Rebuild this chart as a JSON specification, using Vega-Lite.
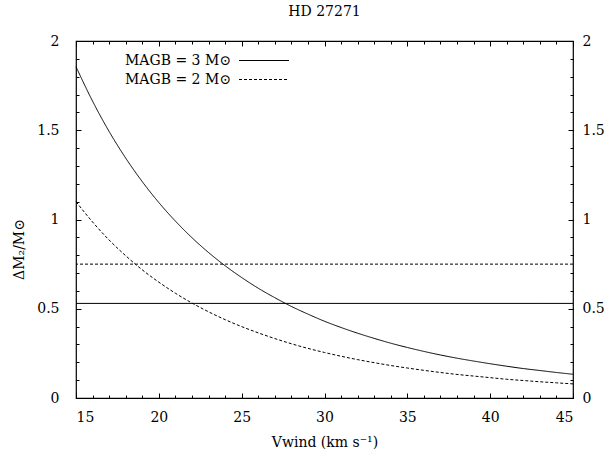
{
  "$schema": "https://vega.github.io/schema/vega-lite/v6.json",
  "width": 497,
  "height": 357,
  "autosize": {"type": "none"},
  "padding": {"left": 76, "top": 41, "right": 37, "bottom": 61},
  "title": {"text": "HD 27271", "font": "DejaVu Serif", "fontSize": 14, "fontWeight": "normal", "color": "black", "offset": 15, "anchor": "middle"},
  "config": {
    "view": {"stroke": "black", "strokeWidth": 1.2},
    "font": "DejaVu Serif",
    "axis": {"labelFont": "DejaVu Serif", "labelFontSize": 14, "labelColor": "black", "titleFont": "DejaVu Serif", "titleFontSize": 14, "titleFontWeight": "normal", "titleColor": "black", "tickColor": "black", "tickWidth": 1, "domain": false, "grid": false},
    "legend": {"labelFont": "DejaVu Serif", "labelFontSize": 14, "labelColor": "black"}
  },
  "datasets": {
    "curves": [
      {"V":15,"dM":1.856,"series":"MAGB = 3 M⊙"},{"V":16,"dM":1.663,"series":"MAGB = 3 M⊙"},{"V":17,"dM":1.493,"series":"MAGB = 3 M⊙"},{"V":18,"dM":1.344,"series":"MAGB = 3 M⊙"},{"V":19,"dM":1.212,"series":"MAGB = 3 M⊙"},{"V":20,"dM":1.095,"series":"MAGB = 3 M⊙"},{"V":21,"dM":0.991,"series":"MAGB = 3 M⊙"},{"V":22,"dM":0.898,"series":"MAGB = 3 M⊙"},{"V":23,"dM":0.815,"series":"MAGB = 3 M⊙"},{"V":24,"dM":0.741,"series":"MAGB = 3 M⊙"},{"V":25,"dM":0.675,"series":"MAGB = 3 M⊙"},{"V":26,"dM":0.615,"series":"MAGB = 3 M⊙"},{"V":27,"dM":0.562,"series":"MAGB = 3 M⊙"},{"V":28,"dM":0.513,"series":"MAGB = 3 M⊙"},{"V":29,"dM":0.470,"series":"MAGB = 3 M⊙"},{"V":30,"dM":0.430,"series":"MAGB = 3 M⊙"},{"V":31,"dM":0.395,"series":"MAGB = 3 M⊙"},{"V":32,"dM":0.363,"series":"MAGB = 3 M⊙"},{"V":33,"dM":0.334,"series":"MAGB = 3 M⊙"},{"V":34,"dM":0.307,"series":"MAGB = 3 M⊙"},{"V":35,"dM":0.283,"series":"MAGB = 3 M⊙"},{"V":36,"dM":0.261,"series":"MAGB = 3 M⊙"},{"V":37,"dM":0.241,"series":"MAGB = 3 M⊙"},{"V":38,"dM":0.223,"series":"MAGB = 3 M⊙"},{"V":39,"dM":0.207,"series":"MAGB = 3 M⊙"},{"V":40,"dM":0.192,"series":"MAGB = 3 M⊙"},{"V":41,"dM":0.178,"series":"MAGB = 3 M⊙"},{"V":42,"dM":0.165,"series":"MAGB = 3 M⊙"},{"V":43,"dM":0.154,"series":"MAGB = 3 M⊙"},{"V":44,"dM":0.143,"series":"MAGB = 3 M⊙"},{"V":45,"dM":0.133,"series":"MAGB = 3 M⊙"},
      {"V":15,"dM":1.100,"series":"MAGB = 2 M⊙"},{"V":16,"dM":0.986,"series":"MAGB = 2 M⊙"},{"V":17,"dM":0.885,"series":"MAGB = 2 M⊙"},{"V":18,"dM":0.797,"series":"MAGB = 2 M⊙"},{"V":19,"dM":0.718,"series":"MAGB = 2 M⊙"},{"V":20,"dM":0.649,"series":"MAGB = 2 M⊙"},{"V":21,"dM":0.587,"series":"MAGB = 2 M⊙"},{"V":22,"dM":0.532,"series":"MAGB = 2 M⊙"},{"V":23,"dM":0.483,"series":"MAGB = 2 M⊙"},{"V":24,"dM":0.439,"series":"MAGB = 2 M⊙"},{"V":25,"dM":0.400,"series":"MAGB = 2 M⊙"},{"V":26,"dM":0.365,"series":"MAGB = 2 M⊙"},{"V":27,"dM":0.333,"series":"MAGB = 2 M⊙"},{"V":28,"dM":0.304,"series":"MAGB = 2 M⊙"},{"V":29,"dM":0.278,"series":"MAGB = 2 M⊙"},{"V":30,"dM":0.255,"series":"MAGB = 2 M⊙"},{"V":31,"dM":0.234,"series":"MAGB = 2 M⊙"},{"V":32,"dM":0.215,"series":"MAGB = 2 M⊙"},{"V":33,"dM":0.198,"series":"MAGB = 2 M⊙"},{"V":34,"dM":0.182,"series":"MAGB = 2 M⊙"},{"V":35,"dM":0.168,"series":"MAGB = 2 M⊙"},{"V":36,"dM":0.155,"series":"MAGB = 2 M⊙"},{"V":37,"dM":0.143,"series":"MAGB = 2 M⊙"},{"V":38,"dM":0.132,"series":"MAGB = 2 M⊙"},{"V":39,"dM":0.123,"series":"MAGB = 2 M⊙"},{"V":40,"dM":0.114,"series":"MAGB = 2 M⊙"},{"V":41,"dM":0.105,"series":"MAGB = 2 M⊙"},{"V":42,"dM":0.098,"series":"MAGB = 2 M⊙"},{"V":43,"dM":0.091,"series":"MAGB = 2 M⊙"},{"V":44,"dM":0.085,"series":"MAGB = 2 M⊙"},{"V":45,"dM":0.079,"series":"MAGB = 2 M⊙"}
    ],
    "levels": [
      {"series": "MAGB = 3 M⊙", "level": 0.53},
      {"series": "MAGB = 2 M⊙", "level": 0.75}
    ]
  },
  "layer": [
    {
      "data": {"name": "curves"},
      "mark": {"type": "line", "color": "black", "strokeWidth": 1, "interpolate": "monotone"},
      "encoding": {
        "x": {"field": "V", "type": "quantitative", "scale": {"domain": [15, 45], "nice": false, "zero": false},
          "axis": {"orient": "bottom", "values": [15, 20, 25, 30, 35, 40, 45], "tickSize": -5, "labelPadding": 17.5, "labelExpr": "'' + datum.value", "title": "Vwind (km s⁻¹)", "titlePadding": 11}},
        "y": {"field": "dM", "type": "quantitative", "scale": {"domain": [0, 2], "nice": false, "zero": false},
          "axis": {"orient": "left", "values": [0, 0.5, 1, 1.5, 2], "tickSize": -5, "labelPadding": 22, "labelExpr": "'' + datum.value", "title": "ΔM₂/M⊙", "titleY": 208, "titlePadding": 10}},
        "strokeDash": {"field": "series", "type": "nominal",
          "scale": {"domain": ["MAGB = 3 M⊙", "MAGB = 2 M⊙"], "range": [[1, 0], [3, 2]]},
          "legend": {"title": null, "orient": "none", "legendX": 181, "legendY": 12.5, "padding": 0, "rowPadding": 5,
            "symbolType": "M-5,0H5", "symbolSize": 100, "symbolStrokeColor": "black", "symbolFillColor": "transparent", "symbolStrokeWidth": 1,
            "labelAlign": "right", "labelOffset": -40}}
      }
    },
    {
      "data": {"name": "levels"},
      "mark": {"type": "rule", "color": "black", "strokeWidth": 1},
      "encoding": {
        "y": {"field": "level", "type": "quantitative", "scale": {"domain": [0, 2], "nice": false, "zero": false},
          "axis": {"orient": "right", "values": [0, 0.5, 1, 1.5, 2], "tickSize": -5, "labelPadding": 14, "labelExpr": "'' + datum.value", "title": null}},
        "strokeDash": {"field": "series", "type": "nominal"}
      }
    },
    {
      "data": {"name": "curves"},
      "mark": {"type": "point", "opacity": 0},
      "encoding": {
        "x": {"field": "V", "type": "quantitative", "scale": {"domain": [15, 45], "nice": false, "zero": false},
          "axis": {"orient": "top", "values": [15, 20, 25, 30, 35, 40, 45], "tickSize": -5, "labels": false, "title": null}},
        "y": {"field": "dM", "type": "quantitative", "scale": {"domain": [0, 2], "nice": false, "zero": false},
          "axis": {"orient": "left", "values": [0, 0.1, 0.2, 0.3, 0.4, 0.5, 0.6, 0.7, 0.8, 0.9, 1, 1.1, 1.2, 1.3, 1.4, 1.5, 1.6, 1.7, 1.8, 1.9, 2], "tickSize": -3, "labels": false, "title": null}}
      }
    },
    {
      "data": {"name": "curves"},
      "mark": {"type": "point", "opacity": 0},
      "encoding": {
        "x": {"field": "V", "type": "quantitative", "scale": {"domain": [15, 45], "nice": false, "zero": false},
          "axis": {"orient": "bottom", "values": [15, 16, 17, 18, 19, 20, 21, 22, 23, 24, 25, 26, 27, 28, 29, 30, 31, 32, 33, 34, 35, 36, 37, 38, 39, 40, 41, 42, 43, 44, 45], "tickSize": -3, "labels": false, "title": null}},
        "y": {"field": "dM", "type": "quantitative", "scale": {"domain": [0, 2], "nice": false, "zero": false},
          "axis": {"orient": "right", "values": [0, 0.1, 0.2, 0.3, 0.4, 0.5, 0.6, 0.7, 0.8, 0.9, 1, 1.1, 1.2, 1.3, 1.4, 1.5, 1.6, 1.7, 1.8, 1.9, 2], "tickSize": -3, "labels": false, "title": null}}
      }
    },
    {
      "data": {"name": "curves"},
      "mark": {"type": "point", "opacity": 0},
      "encoding": {
        "x": {"field": "V", "type": "quantitative", "scale": {"domain": [15, 45], "nice": false, "zero": false},
          "axis": {"orient": "top", "values": [15, 16, 17, 18, 19, 20, 21, 22, 23, 24, 25, 26, 27, 28, 29, 30, 31, 32, 33, 34, 35, 36, 37, 38, 39, 40, 41, 42, 43, 44, 45], "tickSize": -3, "labels": false, "title": null}},
        "y": {"field": "dM", "type": "quantitative", "scale": {"domain": [0, 2], "nice": false, "zero": false}, "axis": null}
      }
    }
  ],
  "resolve": {"axis": {"x": "independent", "y": "independent"}}
}
